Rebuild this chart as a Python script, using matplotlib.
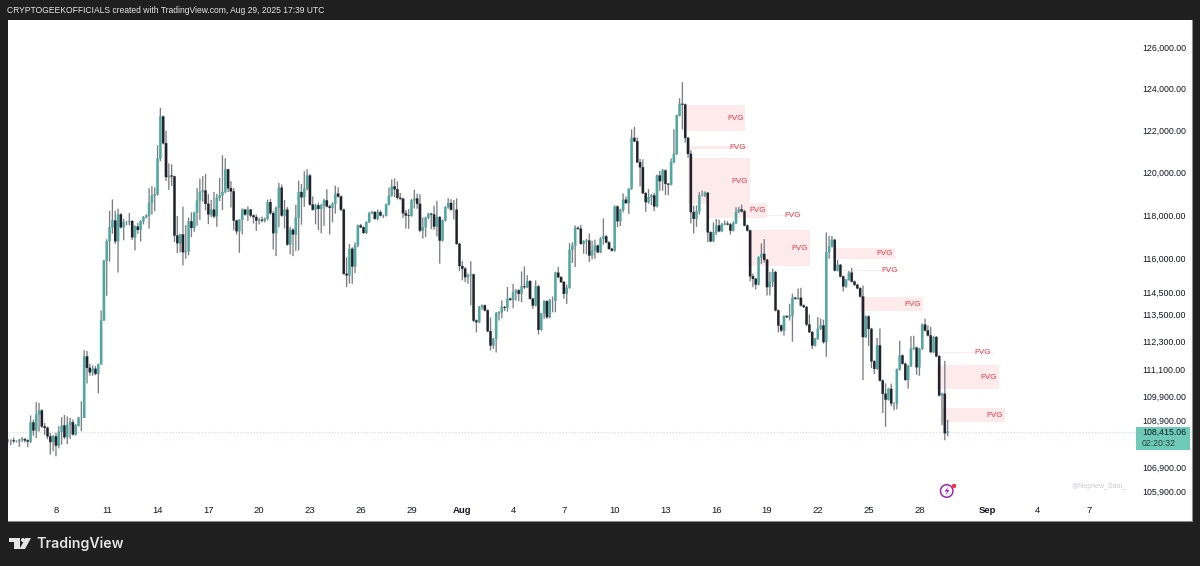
import matplotlib
matplotlib.use("Agg")
import matplotlib.pyplot as plt
from matplotlib.patches import Rectangle, Polygon, Ellipse
import numpy as np
import pandas as pd

# 4h candles, bar 0 opens Jul 5 04:00
start_time = "2025-07-05 04:00"

closes = [
    108040,108040,108010,108010,108060,108090,108040,107990,108800,108460,
    109130,109310,108630,108570,108210,107970,108210,107820,108400,108670,
    108180,108700,108810,108290,108670,109000,109000,111650,111150,110960,
    111110,110890,111300,113230,115920,116800,117440,117750,116800,118030,
    117440,117680,117680,117720,116980,117470,117320,117720,117910,117980,
    118570,118900,118960,120640,122640,121370,119770,119840,119800,117060,
    116710,117110,116300,116340,117710,117410,118110,118680,119070,119140,
    118520,118030,118250,117940,118800,118910,119070,120130,119250,119100,
    117750,117260,117780,118250,118030,118250,117980,117910,117750,117780,
    117750,117830,118600,118090,117170,118340,119270,117980,118250,116650,
    117320,117110,117880,119070,118830,119220,119840,118490,118250,118450,
    118290,118450,118680,118400,118340,118520,118990,118860,118250,115320,
    115250,116450,115650,116600,117520,117440,117180,117680,118090,118140,
    117830,118140,117980,117980,118490,118900,119330,119200,118800,118760,
    118090,117980,117970,118680,118770,118520,117290,117440,117880,118060,
    118030,117470,117910,116830,117750,118370,118560,118250,118250,116680,
    115670,115550,115170,115250,115290,113230,113160,113830,113900,113680,
    112760,112130,112420,113560,113600,113830,113800,114200,114150,114490,
    114570,114420,114750,114720,114990,114200,113900,114750,112820,113530,
    114090,113380,114120,114120,115370,115170,114950,114420,114690,116410,
    116600,117410,117370,116680,116800,116830,116150,116370,116600,116300,
    116910,117020,116750,116450,116370,118400,117720,118250,118710,118560,
    119220,121620,121460,120470,120230,119020,118600,118830,118910,118400,
    119840,119580,120080,119450,119420,120470,120860,122690,123250,123220,
    121620,120860,118140,117830,118180,118910,118910,119030,117210,116800,
    117210,117520,117260,117570,117600,117570,117290,117630,118140,118260,
    118170,117520,117290,115210,115090,114840,116070,116220,115950,114720,
    114950,115400,113680,113010,112790,113420,113380,113450,114240,114200,
    114240,113900,113830,113050,112720,112130,112420,112860,113010,112280,
    116300,116560,116860,115470,115720,115200,114750,115050,115370,114970,
    114820,114670,114300,112500,113410,112860,111440,111110,112130,110600,
    110030,109780,110240,109620,109620,111080,111690,111330,110630,111230,
    111980,112030,111180,111980,113050,112790,112570,111840,112500,111660,
    109960,110030,108345,108415,
]

upper_wick = [
    60,45,120,30,45,90,60,45,300,120,
    540,330,60,150,60,150,60,150,240,360,
    450,360,180,120,60,45,705,270,240,180,
    150,120,30,450,30,90,750,975,450,270,
    60,150,45,375,60,60,180,45,45,60,
    675,450,330,630,420,45,600,570,525,30,
    900,30,1275,1200,180,420,45,570,630,675,
    780,450,450,825,180,825,1725,525,30,330,
    150,30,30,60,45,150,30,60,120,90,
    150,60,120,150,90,60,225,150,450,120,
    150,75,600,525,375,825,300,75,375,75,
    120,75,75,525,75,75,375,300,45,45,
    750,225,75,150,45,75,45,30,45,45,
    45,120,75,45,45,375,330,375,375,225,
    45,150,300,75,405,225,450,450,45,45,
    45,405,750,45,45,45,225,180,450,525,
    45,225,75,75,600,30,45,45,45,45,
    45,600,45,45,45,300,45,525,45,375,
    75,75,675,900,270,45,45,270,75,45,
    45,45,75,180,45,270,45,45,150,300,
    150,120,75,180,45,75,330,450,270,45,
    75,825,75,45,45,45,45,45,300,150,
    30,405,525,180,150,375,45,375,75,120,
    45,225,75,45,45,180,1170,45,270,1050,
    45,45,180,300,270,150,225,75,45,45,
    450,300,270,75,150,120,75,75,225,120,
    225,75,45,45,120,45,45,480,675,45,
    450,150,45,45,45,45,45,525,180,45,
    420,450,45,45,450,45,45,525,300,255,
    900,480,180,45,225,45,45,45,75,210,
    45,45,45,495,45,45,45,45,330,750,
    45,450,45,225,45,45,645,45,45,45,
    555,525,45,45,45,255,225,375,45,45,
    45,45,1425,495,
]

lower_wick = [
    90,210,90,60,240,90,90,240,60,225,
    330,720,60,300,120,525,390,450,120,540,
    90,300,600,45,45,45,570,0,675,150,
    150,60,840,0,0,1590,930,300,120,1425,
    60,600,150,150,120,600,180,525,150,60,
    600,540,720,60,120,60,180,600,450,300,
    450,420,600,300,180,420,180,600,900,450,
    300,450,120,90,480,150,675,60,180,750,
    450,150,990,675,60,300,90,300,480,180,
    90,90,75,75,750,1050,900,60,600,60,
    450,990,750,1500,1275,450,75,60,45,675,
    975,1125,945,45,1230,675,450,45,75,45,
    525,375,780,300,75,45,45,45,45,45,
    45,75,45,120,45,45,45,375,75,75,
    225,600,600,45,375,225,75,375,450,75,
    675,150,450,1050,45,45,75,45,450,45,
    225,525,225,300,1350,75,450,45,120,45,
    45,225,150,600,330,270,150,180,45,375,
    375,330,375,75,45,45,150,45,210,45,
    225,75,45,525,525,45,45,225,450,45,
    600,975,45,45,450,600,300,180,375,45,
    45,270,45,45,45,45,270,225,120,45,
    510,45,45,45,900,45,450,75,375,210,
    45,450,450,525,495,45,45,45,45,1200,
    225,180,525,675,375,150,45,75,450,45,
    45,120,45,45,45,45,180,45,45,45,
    45,45,45,225,375,225,45,300,120,375,
    375,225,45,300,75,225,45,150,1155,45,
    45,45,45,75,45,150,45,45,45,75,
    645,300,45,45,45,45,225,75,45,45,
    45,45,45,1875,45,750,300,225,45,45,
    825,1170,45,120,300,255,45,45,45,375,
    45,45,330,375,45,45,45,45,45,45,
    45,1275,300,120,
]

# fair value gap boxes, start/end in bars
fvg_start = [240.3, 241, 241, 247.7, 260.5, 262.2, 292.3, 295.5, 301.9, 329.6, 329.2, 331]
fvg_end = [261.2, 262.2, 262.9, 269, 281.7, 284.2, 314.3, 316.1, 324.2, 349, 351.2, 353.3]
fvg_top = [123195, 121233, 120665, 118560, 118003, 117312, 116488, 115489, 114276, 111841, 111274, 109416]
fvg_bottom = [121948, 121092, 118513, 117866, 117957, 115671, 115988, 115445, 113651, 111798, 110234, 108818]

price_ticks = [126000, 124000, 122000, 120000, 118000, 116000, 114500, 113500,
               112300, 111100, 109900, 108900, 106900, 105900]
date_ticks = ["2025-07-08", "2025-07-11", "2025-07-14", "2025-07-17", "2025-07-20",
              "2025-07-23", "2025-07-26", "2025-07-29", "2025-08-01", "2025-08-04",
              "2025-08-07", "2025-08-10", "2025-08-13", "2025-08-16", "2025-08-19",
              "2025-08-22", "2025-08-25", "2025-08-28", "2025-09-01", "2025-09-04",
              "2025-09-07"]
date_labels = ["8", "11", "14", "17", "20", "23", "26", "29", "Aug", "4", "7", "10",
               "13", "16", "19", "22", "25", "28", "Sep", "4", "7"]
last_price = 108415.06
countdown = "02:20:32"

W, H = 1200, 566
FONT = "Liberation Sans"
BG = "#1f1f1f"
TEAL = "#4ea8a0"
DARK = "#1f222b"
WICK = "#7a7d82"
RED = "#f23645"

closes = np.array(closes, dtype=float)
opens = np.r_[closes[0], closes[:-1]]
highs = np.maximum(opens, closes) + np.array(upper_wick)
lows = np.minimum(opens, closes) - np.array(lower_wick)
bars = np.arange(len(closes))
up = closes >= opens


def fx(px):
    return px / W


def fy(py):
    return 1 - py / H


fig = plt.figure(figsize=(W / 100, H / 100), dpi=100, facecolor=BG)
ax = fig.add_axes([fx(8), fy(521), fx(1184), 501 / H], facecolor="white")
ax.set_yscale("log")
ax.set_xlim(0, 419.6)
ax.set_ylim(104684, 127364)

for s in ax.spines.values():
    s.set_visible(False)
ax.spines["bottom"].set_visible(True)
ax.spines["bottom"].set_color("#8a8a8a")
ax.spines["right"].set_visible(True)
ax.spines["right"].set_color("#8a8a8a")

for a, b, c, d in zip(fvg_start, fvg_end, fvg_top, fvg_bottom):
    ax.add_patch(Rectangle((a, d), b - a, c - d, fc="#fdeaeb", ec="none", zorder=1))
    ax.text(b - 3.5, (c * d) ** 0.5, "FVG", color=RED, fontsize=5.8, family=FONT,
            ha="center", va="center", zorder=4)

ax.axhline(last_price, color="#bfe4db", lw=0.8, ls=(0, (1, 1.6)), zorder=1)

wicks = ax.vlines(bars, lows, highs, color=WICK, lw=0.95, zorder=2)
wicks.set_snap(False)
ax.bar(bars[up], closes[up] - opens[up], bottom=opens[up], width=0.8, color=TEAL,
       ec=TEAL, lw=0.2, snap=False, zorder=3)
ax.bar(bars[~up], opens[~up] - closes[~up], bottom=closes[~up], width=0.8, color=DARK,
       ec=DARK, lw=0.2, snap=False, zorder=3)

tick_pos = (pd.to_datetime(date_ticks) - pd.Timestamp(start_time)) / pd.Timedelta(hours=4)
ax.set_xticks(np.array(tick_pos, dtype=float))
ax.set_xticklabels(date_labels, fontsize=6.8, family=FONT, color="#131722")
for lab, txt in zip(ax.get_xticklabels(), date_labels):
    if txt in ("Aug", "Sep"):
        lab.set_fontweight("bold")
ax.tick_params(axis="x", direction="in", length=0, pad=-11)

ax.yaxis.tick_right()
ax.yaxis.set_major_locator(matplotlib.ticker.FixedLocator(price_ticks))
ax.yaxis.set_major_formatter(matplotlib.ticker.FuncFormatter(lambda v, p: f"{v:,.2f}"))
ax.yaxis.set_minor_locator(matplotlib.ticker.NullLocator())
ax.tick_params(axis="y", direction="in", length=0, pad=-36, labelsize=6.3, labelcolor="#131722")
for lab in ax.get_yticklabels():
    lab.set_family(FONT)

# price tag on the scale
fig.add_artist(Rectangle((fx(1136), fy(450)), fx(54), 23 / H, fc="#6ecbb8", ec="none",
                         transform=fig.transFigure))
fig.text(fx(1142), fy(432.5), f"{last_price:,.2f}", color="#131722", fontsize=6.3, family=FONT, va="center")
fig.text(fx(1142), fy(443), countdown, color="#28403c", fontsize=6.3, family=FONT, va="center")

fig.text(fx(1072), fy(487), "@Nephew_Sam_", color="#c9cbd0", fontsize=5, family=FONT, va="center")

# replay icon under the last candle
fig.add_artist(Ellipse((fx(946.7), fy(491)), 12.5 / W, 12.5 / H, fc="white", ec="#9c27b0", lw=1.1,
                       transform=fig.transFigure))
bolt = [(948.5, 486.5), (944.5, 491.5), (947, 491.5), (945.5, 495.5), (949.5, 490), (947, 490)]
fig.add_artist(Polygon([(fx(x), fy(y)) for x, y in bolt], fc="#9c27b0", ec="none", transform=fig.transFigure))
fig.add_artist(Ellipse((fx(954), fy(486)), 4.5 / W, 4.5 / H, fc=RED, ec="none", transform=fig.transFigure))

# header and footer
fig.text(fx(7), fy(10.5), "CRYPTOGEEKOFFICIALS created with TradingView.com, Aug 29, 2025 17:39 UTC",
         color="#e8e8e8", fontsize=6.15, family=FONT, va="center")
fig.text(fx(36), fy(544), "TradingView", color="#e4e4e4", fontsize=10.2, family="Inter",
         fontweight="semibold", va="center")
logo = [
    [(9, 538), (20, 538), (20, 549), (13.5, 549), (13.5, 542), (9, 542)],
    [(25.5, 538), (31, 538), (25, 549), (19.5, 549)],
]
for pts in logo:
    fig.add_artist(Polygon([(fx(x), fy(y)) for x, y in pts], fc="#e4e4e4", ec="none",
                           transform=fig.transFigure))
fig.add_artist(Ellipse((fx(23), fy(540)), 4 / W, 4 / H, fc="#e4e4e4", ec="none", transform=fig.transFigure))

fig.savefig("out.png", dpi=100, facecolor=BG)
